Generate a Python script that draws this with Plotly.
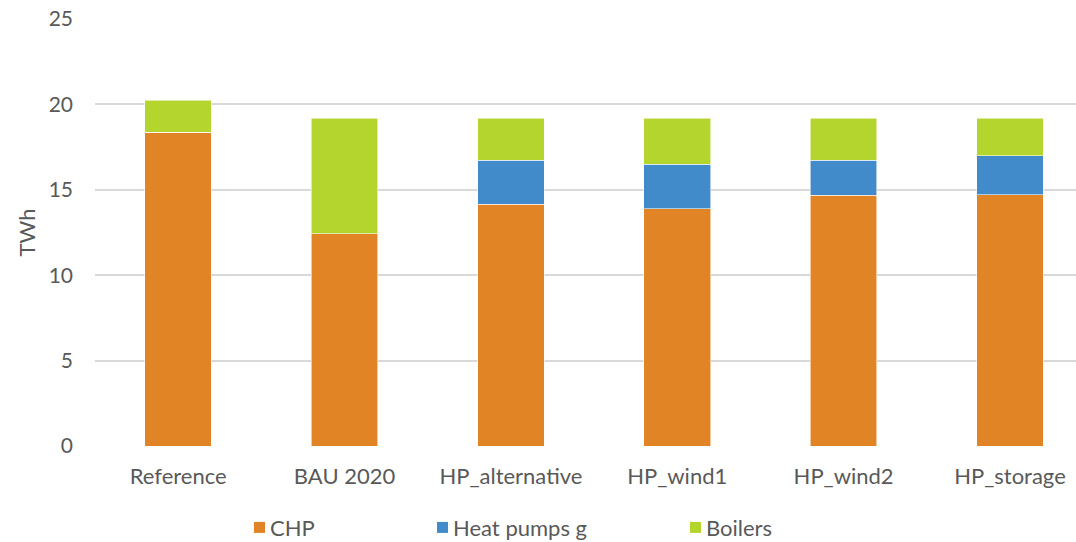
import plotly.graph_objects as go

# Scenario categories and stacked heat supply (TWh)
scenarios = ["Reference", "BAU 2020", "HP_alternative", "HP_wind1", "HP_wind2", "HP_storage"]
chp = [18.37, 12.44, 14.14, 13.89, 14.67, 14.71]
heat_pumps = [0.0, 0.0, 2.59, 2.62, 2.07, 2.27]
boilers = [1.88, 6.75, 2.46, 2.68, 2.45, 2.20]

y_ticks = [0, 5, 10, 15, 20, 25]

series = [
    ("CHP", chp, "#E08426"),
    ("Heat pumps", heat_pumps, "#418BCA"),
    ("Boilers", boilers, "#B4D42E"),
]

FONT = "Lato, 'Open Sans', sans-serif"
TEXT = "#595959"

fig = go.Figure()
for name, vals, color in series:
    fig.add_trace(go.Bar(
        x=scenarios, y=vals, name=name,
        marker=dict(color=color, line=dict(color="rgba(255,255,255,0.7)", width=0.8)),
        showlegend=False,
    ))

# Legend row along the bottom
legend_items = [("CHP", "#E08426", 254), ("Heat pumps g", "#418BCA", 437), ("Boilers", "#B4D42E", 690)]
for label, color, xpx in legend_items:
    fig.add_shape(type="rect", xref="paper", yref="paper",
                  x0=(xpx - 95) / 981, x1=(xpx + 11 - 95) / 981,
                  y0=-(527 + 5.5 - 445.7) / 426.4, y1=-(527 - 5.5 - 445.7) / 426.4,
                  fillcolor=color, line=dict(width=0))
    fig.add_annotation(xref="paper", yref="paper",
                       x=(xpx + 14 - 95) / 981, y=-(527 - 445.7) / 426.4,
                       text=label, showarrow=False, xanchor="left", yanchor="middle",
                       font=dict(family=FONT, size=22, color=TEXT))

fig.update_layout(
    barmode="stack",
    bargap=0.6,
    width=1076, height=542,
    margin=dict(l=95, r=0, t=19, b=96),
    plot_bgcolor="white", paper_bgcolor="white",
    font=dict(family=FONT, size=21, color=TEXT),
)
fig.update_xaxes(
    range=[-0.5, 5.397], showgrid=False, zeroline=False, showline=False,
    ticks="", ticklabelstandoff=15, tickfont=dict(size=22, color=TEXT),
)
fig.update_yaxes(
    range=[0, 25], tickvals=y_ticks, showgrid=True, gridcolor="#D9D9D9", gridwidth=2,
    zeroline=False, showline=False, ticks="", ticklabelstandoff=21,
    tickfont=dict(size=21, color=TEXT),
    title=dict(text="TWh", font=dict(size=22, color=TEXT), standoff=6),
)

fig.write_html("out.html")
